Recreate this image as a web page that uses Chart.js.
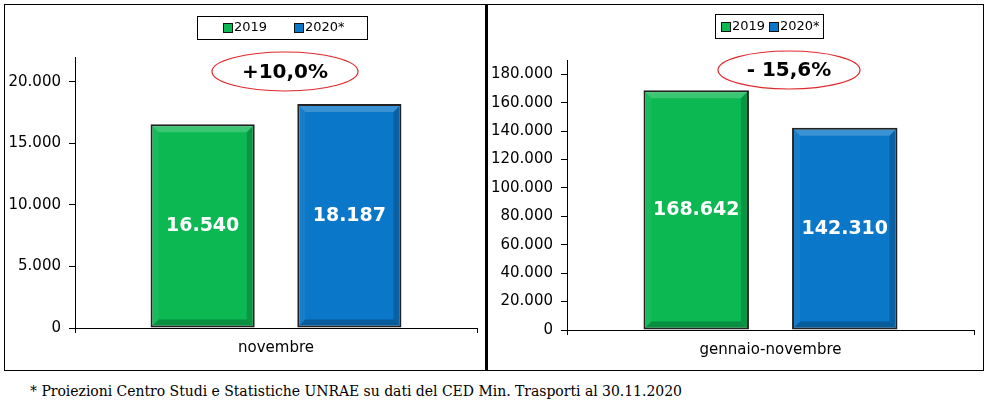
<!DOCTYPE html>
<html>
<head>
<meta charset="utf-8">
<script src="https://cdn.jsdelivr.net/npm/chart.js@4.4.0/dist/chart.umd.min.js"></script>
<style>
  html, body { margin: 0; padding: 0; background: #fff; }
  body { width: 990px; height: 403px; position: relative; overflow: hidden; }
  #frame { position: absolute; left: 4px; top: 4px; width: 980px; height: 367px; box-sizing: border-box; border: 1px solid #000; }
  #divider { position: absolute; left: 485px; top: 4px; width: 3px; height: 367px; background: #000; }
  .panel { position: absolute; top: 5px; height: 365px; }
  #leftPanel { left: 5px; width: 480px; }
  #rightPanel { left: 488px; width: 495px; }
  #note { position: absolute; left: 30px; top: 381px; font: 14px "DejaVu Serif", "Liberation Serif", serif; color: #000; white-space: nowrap; line-height: 20px; letter-spacing: -0.03px; }
</style>
</head>
<body>
<div id="frame"></div>
<div id="divider"></div>
<div class="panel" id="leftPanel"><canvas id="monthChart"></canvas></div>
<div class="panel" id="rightPanel"><canvas id="ytdChart"></canvas></div>
<div id="note">* Proiezioni Centro Studi e Statistiche UNRAE su dati del CED Min. Trasporti al 30.11.2020</div>

<script>
/* ---------------------------------- Data ---------------------------------- */
const seriesLabels = ['2019', '2020*'];
const seriesColors = ['#0bb852', '#0a77c8'];

const monthCategory = ['novembre'];
const month2019 = [16540];
const month2020 = [18187];
const monthChange = '+10,0%';
const monthAxisMax = 22000;
const monthTicks = [0, 5000, 10000, 15000, 20000];

const ytdCategory = ['gennaio-novembre'];
const ytd2019 = [168642];
const ytd2020 = [142310];
const ytdChange = '- 15,6%';
const ytdAxisMax = 190000;
const ytdTicks = [0, 20000, 40000, 60000, 80000, 100000, 120000, 140000, 160000, 180000];

/* -------------------------------- Helpers --------------------------------- */
Chart.defaults.font.family = "'DejaVu Sans', Verdana, sans-serif";
Chart.defaults.color = '#000';

// italian thousands separator
const fmt = (n) => String(Math.round(n)).replace(/\B(?=(\d{3})+(?!\d))/g, '.');

const decor = {
    id: 'decor',
    afterDatasetsDraw(chart, args, opts) {
        const ctx = chart.ctx;
        ctx.save();
        // bevel + value labels
        chart.data.datasets.forEach((ds, di) => {
            chart.getDatasetMeta(di).data.forEach((bar, i) => {
                const L = bar.x - bar.width / 2 + 2, R = bar.x + bar.width / 2 - 2;
                const T = bar.y + 2, B = bar.base - 2, b = 6;
                const poly = (pts, fill) => {
                    ctx.beginPath();
                    ctx.moveTo(pts[0][0], pts[0][1]);
                    pts.slice(1).forEach(p => ctx.lineTo(p[0], p[1]));
                    ctx.closePath();
                    ctx.fillStyle = fill;
                    ctx.fill();
                };
                poly([[L, T], [R, T], [R - b, T + b], [L + b, T + b]], 'rgba(255,255,255,0.2)');
                poly([[L, T], [L + b, T + b], [L + b, B - b], [L, B]], 'rgba(255,255,255,0.05)');
                poly([[R, T], [R, B], [R - b, B - b], [R - b, T + b]], 'rgba(0,0,0,0.18)');
                poly([[L, B], [R, B], [R - b, B - b], [L + b, B - b]], 'rgba(0,0,0,0.22)');

                ctx.fillStyle = '#fff';
                ctx.font = "bold 19px 'DejaVu Sans', Verdana, sans-serif";
                ctx.textAlign = 'center';
                ctx.textBaseline = 'middle';
                ctx.fillText(fmt(ds.data[i]), bar.x, (bar.y + bar.base) / 2);
            });
        });

        // framed legend
        const lg = opts.legend;
        ctx.strokeStyle = '#000';
        ctx.lineWidth = 1;
        ctx.strokeRect(lg.x + 0.5, lg.y + 0.5, lg.w, lg.h);
        ctx.font = "13px 'DejaVu Sans', Verdana, sans-serif";
        ctx.textAlign = 'left';
        ctx.textBaseline = 'middle';
        chart.data.datasets.forEach((ds, di) => {
            const sx = lg.items[di], sy = lg.sq;
            ctx.fillStyle = ds.backgroundColor;
            ctx.fillRect(sx, sy, 10, 10);
            ctx.strokeStyle = '#111';
            ctx.strokeRect(sx + 0.5, sy + 0.5, 9, 9);
            ctx.fillStyle = '#000';
            ctx.fillText(ds.label, sx + 11, sy + 5);
        });

        // change badge
        const bd = opts.badge;
        ctx.beginPath();
        ctx.ellipse(bd.cx, bd.cy, bd.rx, bd.ry, 0, 0, Math.PI * 2);
        ctx.strokeStyle = '#e0282c';
        ctx.lineWidth = 1.2;
        ctx.stroke();
        ctx.fillStyle = '#000';
        ctx.font = "bold 20px 'DejaVu Sans', Verdana, sans-serif";
        ctx.textAlign = 'center';
        ctx.fillText(bd.text, bd.cx, bd.cy + 1);
        ctx.restore();
    }
};

const makeChart = (canvasId, categories, a, b, axisMax, tickValues, cfg) => {
    return new Chart(document.getElementById(canvasId), {
        type: 'bar',
        data: {
            labels: categories,
            datasets: [
                { label: seriesLabels[0], data: a, backgroundColor: seriesColors[0] },
                { label: seriesLabels[1], data: b, backgroundColor: seriesColors[1] }
            ]
        },
        options: {
            responsive: true,
            maintainAspectRatio: false,
            animation: false,
            devicePixelRatio: 1,
            categoryPercentage: 0.73,
            barPercentage: 0.71,
            borderColor: '#222',
            borderWidth: 2,
            borderSkipped: false,
            layout: { padding: { left: 0, right: cfg.padRight, top: cfg.padTop, bottom: 0 } },
            plugins: {
                legend: { display: false },
                tooltip: { enabled: false },
                decor: { legend: cfg.legend, badge: cfg.badge }
            },
            scales: {
                x: {
                    grid: { drawOnChartArea: false, drawTicks: true, tickLength: 5, color: '#000', offset: true },
                    border: { display: true, color: '#000', width: 1 },
                    ticks: { font: { size: 15 }, padding: 6, color: '#000' },
                    afterFit: (axis) => { axis.height = cfg.xHeight; }
                },
                y: {
                    min: 0,
                    max: axisMax,
                    grid: { drawOnChartArea: false, drawTicks: true, tickLength: 6, color: '#000' },
                    border: { display: true, color: '#000', width: 1 },
                    ticks: { autoSkip: false, font: { size: 15 }, padding: 8, color: '#000', callback: (v) => fmt(v) },
                    // chart.js spreads ticks evenly when max isn't a step multiple, so set them by hand
                    afterBuildTicks: (axis) => { axis.ticks = tickValues.map(value => ({ value })); },
                    afterFit: (axis) => { axis.width = cfg.yWidth; }
                }
            }
        },
        plugins: [decor]
    });
};

/* ---------------------------------- MAIN ---------------------------------- */
makeChart('monthChart', monthCategory, month2019, month2020, monthAxisMax, monthTicks, {
    padRight: 8, padTop: 52, xHeight: 42, yWidth: 70,
    legend: { x: 192, y: 11, w: 170, h: 23, sq: 18, items: [218, 289] },
    badge: { cx: 280, cy: 66.5, rx: 73, ry: 19.5, text: monthChange }
});

makeChart('ytdChart', ytdCategory, ytd2019, ytd2020, ytdAxisMax, ytdTicks, {
    padRight: 9, padTop: 55, xHeight: 40, yWidth: 79,
    legend: { x: 227, y: 9, w: 108, h: 24, sq: 17, items: [233, 281] },
    badge: { cx: 301, cy: 65, rx: 71, ry: 19, text: ytdChange }
});
</script>
</body>
</html>
